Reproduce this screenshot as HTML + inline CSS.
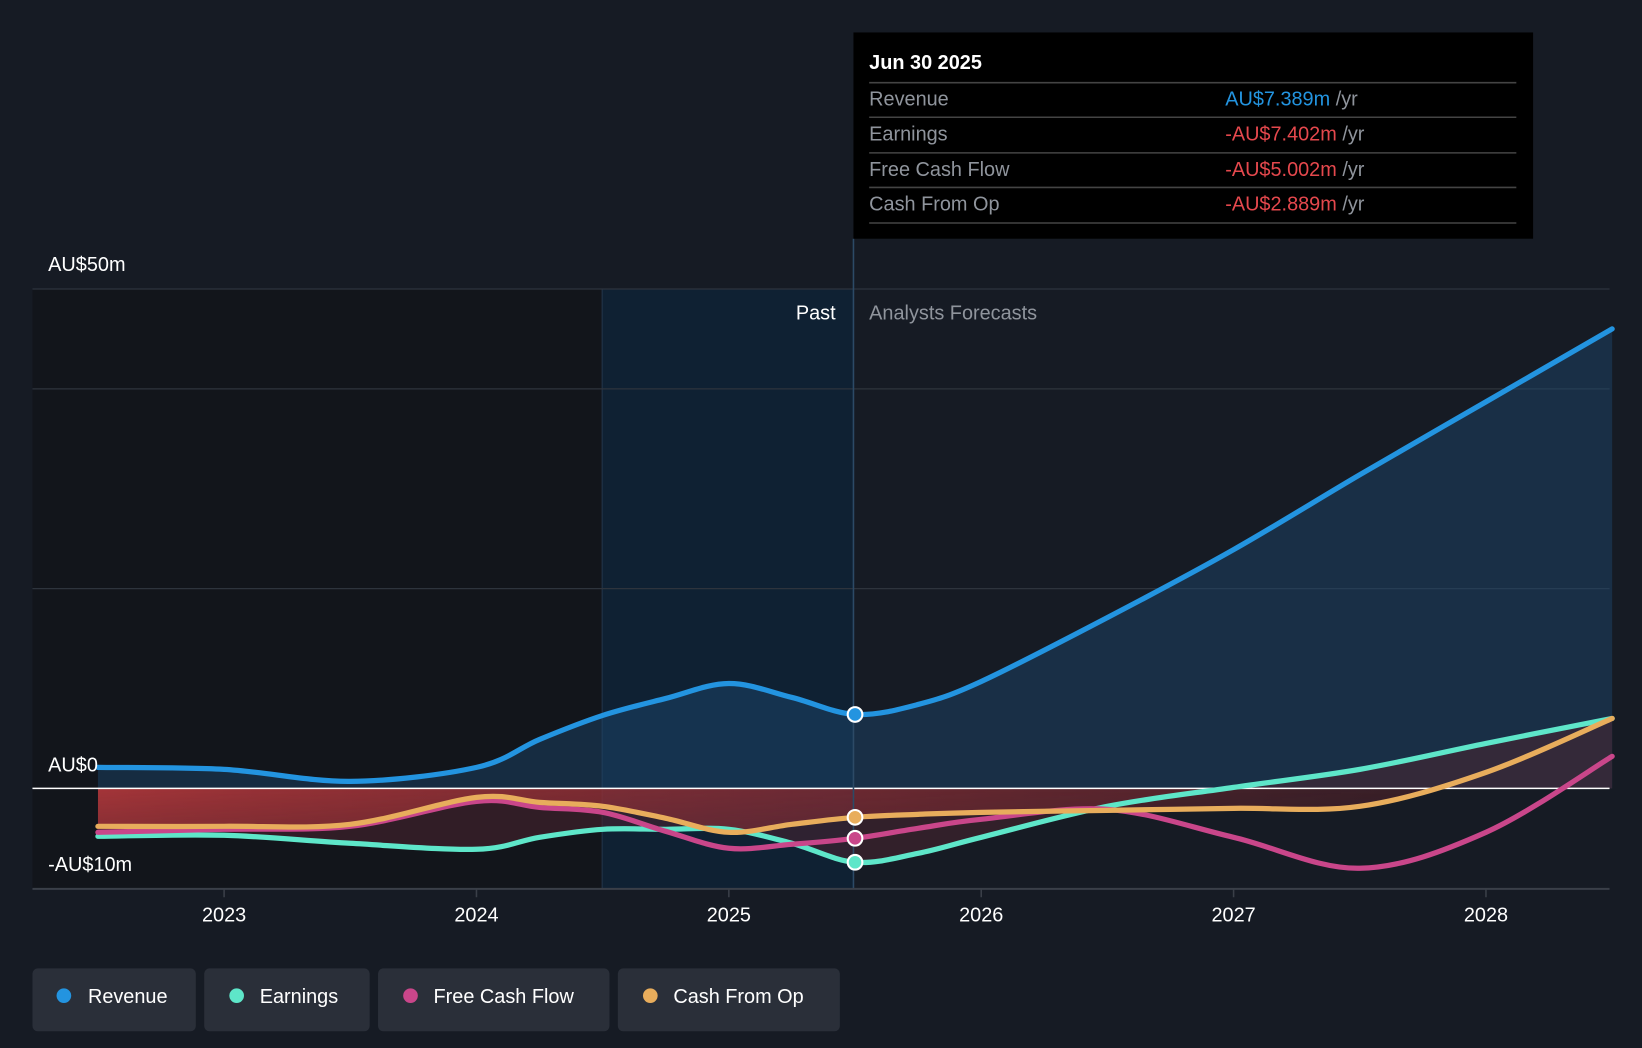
<!DOCTYPE html>
<html><head><meta charset="utf-8"><style>
html,body{margin:0;padding:0;background:#161b24;width:1642px;height:1048px;overflow:hidden}
svg{display:block;font-family:"Liberation Sans",sans-serif}
</style></head><body>
<svg id="chart" width="1642" height="1048" viewBox="0 0 1568 1001" preserveAspectRatio="none" xmlns="http://www.w3.org/2000/svg">
<defs>
<linearGradient id="redg" x1="0" y1="0" x2="1" y2="0"><stop offset="0" stop-color="#b8393c" stop-opacity="0.85"/><stop offset="0.5" stop-color="#9a3036" stop-opacity="0.55"/><stop offset="1" stop-color="#5a2028" stop-opacity="0.35"/></linearGradient>
<linearGradient id="redv" x1="0" y1="0" x2="0" y2="1"><stop offset="0" stop-color="#fff" stop-opacity="1"/><stop offset="1" stop-color="#fff" stop-opacity="0.4"/></linearGradient>
<mask id="rm"><rect x="0" y="753" width="1568" height="100" fill="url(#redv)"/></mask>
</defs>
<rect x="0" y="0" width="1568" height="1001" fill="#161b24"/>
<rect x="31" y="276" width="544" height="573" fill="#12151b"/>
<rect x="575" y="276" width="240" height="573" fill="#0f2133"/>
<line x1="575" y1="276" x2="575" y2="849" stroke="#24364a" stroke-width="1"/>
<g id="grid"></g>
<g id="areas"></g>
<line x1="31" y1="753" x2="1537" y2="753" stroke="#ffffff" stroke-width="1.5"/>
<line x1="815" y1="228" x2="815" y2="849" stroke="#2c4a66" stroke-width="1.5"/>
<g id="lines"></g>
<text x="798" y="305" fill="#fff" font-size="19" text-anchor="end">Past</text>
<text x="830" y="305" fill="#8f949c" font-size="19">Analysts Forecasts</text>
<text x="46" y="259" fill="#fff" font-size="19">AU$50m</text>
<text x="46" y="737" fill="#fff" font-size="19">AU$0</text>
<text x="46" y="832" fill="#fff" font-size="19">-AU$10m</text>
<line x1="31" y1="849" x2="1537" y2="849" stroke="#3a3f48" stroke-width="2"/>
<g id="xaxis"></g>
<g>
<rect x="815" y="31" width="649" height="197" fill="#000"/>
<text x="830" y="66" fill="#fff" font-size="19" font-weight="bold">Jun 30 2025</text>
<line x1="830" y1="79" x2="1448" y2="79" stroke="#444" stroke-width="1.5"/>
<text x="830" y="101" fill="#8f949c" font-size="19">Revenue</text>
<text x="1170" y="101" font-size="19"><tspan fill="#2394e0">AU$7.389m</tspan><tspan fill="#8f949c"> /yr</tspan></text>
<line x1="830" y1="112" x2="1448" y2="112" stroke="#444" stroke-width="1.5"/>
<text x="830" y="134" fill="#8f949c" font-size="19">Earnings</text>
<text x="1170" y="134" font-size="19"><tspan fill="#e5484d">-AU$7.402m</tspan><tspan fill="#8f949c"> /yr</tspan></text>
<line x1="830" y1="146" x2="1448" y2="146" stroke="#444" stroke-width="1.5"/>
<text x="830" y="168" fill="#8f949c" font-size="19">Free Cash Flow</text>
<text x="1170" y="168" font-size="19"><tspan fill="#e5484d">-AU$5.002m</tspan><tspan fill="#8f949c"> /yr</tspan></text>
<line x1="830" y1="179" x2="1448" y2="179" stroke="#444" stroke-width="1.5"/>
<text x="830" y="201" fill="#8f949c" font-size="19">Cash From Op</text>
<text x="1170" y="201" font-size="19"><tspan fill="#e5484d">-AU$2.889m</tspan><tspan fill="#8f949c"> /yr</tspan></text>
<line x1="830" y1="213" x2="1448" y2="213" stroke="#444" stroke-width="1.5"/>
</g>
<g>
<g><rect x="31" y="925" width="156" height="60" rx="5" fill="#2a2f39"/><circle cx="61" cy="951" r="7" fill="#2394e0"/><text x="84" y="958" fill="#fff" font-size="19">Revenue</text></g>
<g><rect x="195" y="925" width="158" height="60" rx="5" fill="#2a2f39"/><circle cx="226" cy="951" r="7" fill="#5ee6c9"/><text x="248" y="958" fill="#fff" font-size="19">Earnings</text></g>
<g><rect x="361" y="925" width="221" height="60" rx="5" fill="#2a2f39"/><circle cx="392" cy="951" r="7" fill="#c9468a"/><text x="414" y="958" fill="#fff" font-size="19">Free Cash Flow</text></g>
<g><rect x="590" y="925" width="212" height="60" rx="5" fill="#2a2f39"/><circle cx="621" cy="951" r="7" fill="#e8ad5c"/><text x="643" y="958" fill="#fff" font-size="19">Cash From Op</text></g>
</g>
</svg>
<script>
const years=[2022.5,2023,2023.5,2024,2024.25,2024.5,2024.75,2025,2025.25,2025.5,2025.75,2026,2026.5,2027,2027.5,2028,2028.5];
const revenue=[2.1,1.9,0.7,2.1,4.9,7.3,9.0,10.5,9.1,7.4,8.4,10.7,17.1,23.9,31.4,38.7,46.0];
const earnings=[-4.8,-4.7,-5.5,-6.1,-4.9,-4.1,-4.1,-4.1,-5.5,-7.4,-6.5,-4.9,-1.8,0.1,1.9,4.5,7.0];
const fcf=[-4.4,-4.1,-3.8,-1.3,-1.9,-2.4,-4.3,-6.0,-5.6,-5.0,-4.0,-3.1,-2.1,-4.9,-8.0,-4.4,3.2];
const cfo=[-3.8,-3.8,-3.6,-0.9,-1.4,-1.8,-3.0,-4.4,-3.6,-2.9,-2.6,-2.4,-2.2,-2.0,-1.8,1.6,7.0];
const xTicks=[2023,2024,2025,2026,2027,2028];
const yGrid=[50,40,20,0,-10];
const X=v=>214+(v-2023)*241, Y=v=>753-v*9.54;
const NS="http://www.w3.org/2000/svg";
function mk(t,a,p){const e=document.createElementNS(NS,t);for(const k in a)e.setAttribute(k,a[k]);p.appendChild(e);return e;}
function path(vals){const p=years.map((y,i)=>[X(y),Y(vals[i])]);let d=`M${p[0][0]},${p[0][1]}`;
for(let i=0;i<p.length-1;i++){const p0=p[i-1]||p[i],p1=p[i],p2=p[i+1],p3=p[i+2]||p2;
d+=`C${p1[0]+(p2[0]-p0[0])/6},${p1[1]+(p2[1]-p0[1])/6} ${p2[0]-(p3[0]-p1[0])/6},${p2[1]-(p3[1]-p1[1])/6} ${p2[0]},${p2[1]}`;}return d;}
const grid=document.getElementById('grid');
yGrid.forEach(v=>{if(v===0||v===-10)return;const l=mk('line',{x1:31,x2:1537,y1:Y(v),y2:Y(v),stroke:'#2e343d','stroke-width':1.2},grid);

});
const ax=document.getElementById('xaxis');
xTicks.forEach(t=>{mk('line',{x1:X(t),x2:X(t),y1:849,y2:857,stroke:'#3a3f48','stroke-width':1.5},ax);
const tx=mk('text',{x:X(t),y:880,fill:'#fff','font-size':19,'text-anchor':'middle'},ax);tx.textContent=t;

});
const areas=document.getElementById('areas');
const x0=X(years[0]),x1=X(years[years.length-1]);
const ra=mk('path',{d:path(revenue)+`L${x1},753L${x0},753Z`,fill:'#1d4a72','fill-opacity':0.45},areas);


const ea=mk('path',{d:path(earnings)+`L${x1},753L${x0},753Z`,fill:'#4a2430','fill-opacity':0.55},areas);


const rr=mk('path',{d:path(cfo)+`L${x1},753L${x0},753Z`,fill:'url(#redg)',mask:'url(#rm)'},areas);
rr.setAttribute('clip-path','inset(0 0 0 0)');


const lines=document.getElementById('lines');
[[earnings,'#5ee6c9','earnings-line'],[fcf,'#c9468a','free-cash-flow-line'],[cfo,'#e8ad5c','cash-from-op-line'],[revenue,'#2394e0','revenue-line']].forEach(([v,c,n])=>{
const l=mk('path',{d:path(v),fill:'none',stroke:c,'stroke-width':5,'stroke-linecap':'round'},lines);


const i=years.indexOf(2025.5);
const dot=mk('circle',{cx:X(2025.5),cy:Y(v[i]),r:7,fill:c,stroke:'#fff','stroke-width':2},lines);

});
</script>
</body></html>
